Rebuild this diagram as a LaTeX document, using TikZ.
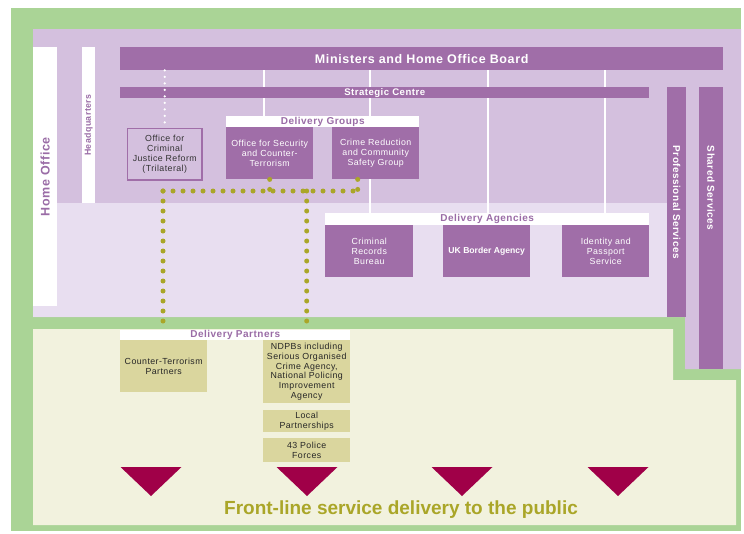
\documentclass[tikz,border=0pt]{standalone}
\usepackage{fontspec}
\setmainfont{Liberation Sans}
\newfontfamily\spacedfont[LetterSpace=5]{Liberation Sans}
\usepackage{graphicx}
\usepackage{tikz}

\definecolor{frame}{HTML}{AAD496}
\definecolor{lilac}{HTML}{D4C0DE}
\definecolor{lavender}{HTML}{E8DEF0}
\definecolor{hobar}{HTML}{A06EA8}
\definecolor{hotext}{HTML}{9A6CA6}
\definecolor{cream}{HTML}{F2F2DE}
\definecolor{khaki}{HTML}{DAD69E}
\definecolor{olive}{HTML}{AAA628}
\definecolor{crimson}{HTML}{A00048}

\tikzset{
  bar/.style={fill=hobar, text=white, inner sep=0pt, anchor=north west},
  whitebar/.style={fill=white, text=hotext, inner sep=0pt, anchor=north west},
  headbox/.style={fill=white, text=hotext, inner sep=0pt, anchor=north west,
    font=\spacedfont\bfseries\fontsize{10}{10}\selectfont},
  unitbox/.style={fill=hobar, text=white, inner sep=0pt, anchor=north west, align=center,
    minimum width=87pt, minimum height=52pt, font=\spacedfont\fontsize{8.8}{9.8}\selectfont},
  partbox/.style={fill=khaki, text=black!85, inner sep=0pt, anchor=north west, align=center,
    minimum width=87pt, font=\spacedfont\fontsize{8.8}{9.8}\selectfont},
  linkw/.style={draw=white, line width=2.5pt},
  dotw/.style={draw=white, line width=2.6pt, line cap=round, dash pattern=on 0pt off 6.5pt},
  doto/.style={draw=olive, line width=5pt, line cap=round, dash pattern=on 0pt off 10pt},
  tri/.style={fill=crimson}
}

\begin{document}
\begin{tikzpicture}[x=1pt, y=-1pt]
  \useasboundingbox (0,0) rectangle (744,533);

  % Green frame
  \fill[frame] (11,8) rectangle (741,531);

  % Home Office area
  \fill[lilac] (33,29) -- (741,29) -- (741,369) -- (685,369) -- (685,317) -- (33,317) -- cycle;
  \fill[lavender] (33,203) rectangle (667,317);

  % Front-line area
  \fill[cream] (33,329) -- (673,329) -- (673,380) -- (736,380) -- (736,525) -- (33,525) -- cycle;

  % Side bars
  \node[whitebar, minimum width=24pt, minimum height=259pt,
    font=\spacedfont\bfseries\fontsize{12.5}{13}\selectfont] (homeoffice) at (33,47)
    {\rotatebox{90}{Home Office}};
  \node[whitebar, minimum width=13pt, minimum height=156pt,
    font=\spacedfont\bfseries\fontsize{8.8}{9}\selectfont] (hq) at (82,47)
    {\rotatebox{90}{Headquarters}};

  % Top bars
  \node[bar, minimum width=603pt, minimum height=23pt,
    font=\spacedfont\bfseries\fontsize{12.5}{13}\selectfont] (ministers) at (120,47)
    {Ministers and Home Office Board};
  \node[bar, minimum width=19pt, minimum height=230pt,
    font=\spacedfont\bfseries\fontsize{10}{10}\selectfont] (prof) at (667,87)
    {\rotatebox{-90}{Professional Services}};
  \node[bar, minimum width=24pt, minimum height=282pt] (shared) at (699,87) {};
  \node[text=white, inner sep=0pt, font=\spacedfont\bfseries\fontsize{10}{10}\selectfont]
    (sharedlbl) at (711,188) {\rotatebox{-90}{Shared Services}};

  % Headers
  \node[headbox, minimum width=193pt, minimum height=11pt] (grouphead) at (226,116) {Delivery Groups};
  \node[headbox, minimum width=324pt, minimum height=12pt] (agencyhead) at (325,213) {Delivery Agencies};
  \node[headbox, minimum width=230pt, minimum height=10pt] (parthead) at (120,330) {Delivery Partners};

  % White links (drawn under the bars)
  \foreach \x/\t in {264/grouphead, 370/agencyhead, 488/agencyhead, 605/agencyhead}
    \draw[linkw] (ministers.south -| \x,0) -- (\t.north -| \x,0);

  \node[bar, minimum width=529pt, minimum height=11pt,
    font=\spacedfont\bfseries\fontsize{9.6}{10}\selectfont] (strategic) at (120,87)
    {Strategic Centre};

  % Delivery groups
  \node[fill=lilac, draw=hobar, line width=1.5pt, text=black!80, inner sep=0pt, align=center,
    minimum width=74.5pt, minimum height=51.5pt, anchor=north west,
    font=\spacedfont\fontsize{8.8}{10.3}\selectfont] (cjr) at (126.75,127.75)
    {Office for\\Criminal\\Justice Reform\\(Trilateral)};
  \node[unitbox] (osct) at (226,127) {Office for Security\\and Counter-\\Terrorism};
  \node[unitbox] (crcsg) at (332,127) {Crime Reduction\\and Community\\Safety Group};

  % Delivery agencies
  \node[unitbox, minimum width=88pt] (crb) at (325,225) {Criminal\\Records\\Bureau};
  \node[unitbox, font=\bfseries\fontsize{8.6}{9.8}\selectfont] (ukba) at (443,225) {UK Border Agency};
  \node[unitbox] (ips) at (562,225) {Identity and\\Passport\\Service};

  % Delivery partners
  \node[partbox, minimum height=52pt] (ctp) at (120,340) {Counter-Terrorism\\Partners};
  \node[partbox, minimum height=63pt] (ndpb) at (263,340)
    {NDPBs including\\Serious Organised\\Crime Agency,\\National Policing\\Improvement\\Agency};
  \node[partbox, minimum height=22pt] (local) at (263,410) {Local\\Partnerships};
  \node[partbox, minimum height=24pt] (police) at (263,438) {43 Police\\Forces};

  % Dotted links
  \draw[dotw] (ministers.south -| cjr.north) -- (cjr.north);
  \coordinate (jl) at (163,191);
  \coordinate (jr) at (358,191);
  \draw[doto] (jl) -- (jr);
  \draw[doto] (osct.south) -- (osct.south |- jl);
  \draw[doto] ([xshift=-18pt]crcsg.south) -- ([xshift=-18pt]crcsg.south |- jl);
  \draw[doto] (jl) -- (jl |- parthead.north);
  \draw[doto] (ndpb.north |- jl) -- (ndpb.north |- parthead.north);

  % Arrows to the public
  \foreach \x in {151,307,462,618}
    \fill[tri] (\x-30.5,467) -- (\x+30.5,467) -- (\x,496) -- cycle;

  \node[text=olive, font=\bfseries\fontsize{19}{20}\selectfont] (public) at (401,510)
    {Front-line service delivery to the public};
\end{tikzpicture}
\end{document}
